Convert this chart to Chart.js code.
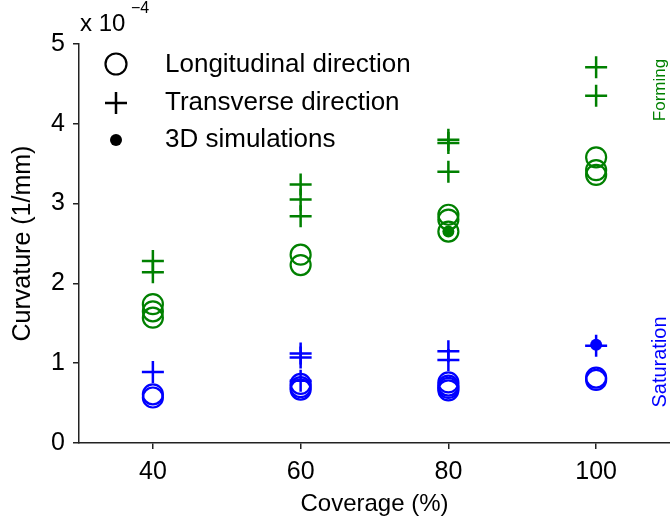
<!DOCTYPE html>
<html>
<head>
<meta charset="utf-8">
<script src="https://cdn.jsdelivr.net/npm/chart.js@4.4.1/dist/chart.umd.min.js"></script>
<style>
  html, body { margin: 0; padding: 0; background: #fff; }
  #box { width: 670px; height: 525px; }
</style>
</head>
<body>
<div id="box"><canvas id="curv_chart" width="670" height="525"></canvas></div>
<script>
// values in units of 1e-4 1/mm
const yTicks = [0, 1, 2, 3, 4, 5];
const xTicks = [40, 60, 80, 100];

const formingLongCov = [40, 40, 40, 60, 60, 80, 80, 80, 100, 100, 100];
const formingLongVal = [1.74, 1.65, 1.57, 2.36, 2.23, 2.86, 2.8, 2.65, 3.58, 3.42, 3.36];
const formingTransCov = [40, 40, 60, 60, 60, 80, 80, 80, 100, 100];
const formingTransVal = [2.28, 2.14, 3.24, 3.05, 2.84, 3.8, 3.76, 3.4, 4.71, 4.35];
const formingSimCov = [80];
const formingSimVal = [2.65];

const satLongCov = [40, 40, 60, 60, 60, 80, 80, 80, 80, 100, 100];
const satLongVal = [0.61, 0.57, 0.74, 0.7, 0.67, 0.76, 0.72, 0.69, 0.66, 0.82, 0.79];
const satTransCov = [40, 60, 60, 60, 80, 80, 100];
const satTransVal = [0.89, 1.12, 1.07, 0.78, 1.15, 1.04, 1.22];
const satSimCov = [100];
const satSimVal = [1.23];

const GREEN = "#008000",
  BLUE = "#0000ff",
  FONT = "'Liberation Sans', Arial, sans-serif";

const pts = (xs, ys) => xs.map((x, i) => ({ x: x, y: ys[i] }));

const circleSet = (xs, ys, color) => ({
  data: pts(xs, ys),
  pointStyle: "circle",
  radius: 10,
  borderWidth: 2.2,
  borderColor: color,
  backgroundColor: "rgba(0,0,0,0)",
});
const crossSet = (xs, ys, color) => ({
  data: pts(xs, ys),
  pointStyle: "cross",
  radius: 11,
  borderWidth: 2.5,
  borderColor: color,
  backgroundColor: color,
});
const dotSet = (xs, ys, color) => ({
  data: pts(xs, ys),
  pointStyle: "circle",
  radius: 6,
  borderWidth: 0,
  borderColor: color,
  backgroundColor: color,
});

const sideLabel = (ctx, text, x, y, size, color) => {
  ctx.save();
  ctx.textAlign = "center";
  ctx.textBaseline = "middle";
  ctx.font = `${size}px ${FONT}`;
  ctx.fillStyle = color;
  ctx.translate(x, y);
  ctx.rotate(-Math.PI / 2);
  ctx.fillText(text, 0, 0);
  ctx.restore();
};

// legend + side labels + exponent, drawn after everything
const extras = {
  id: "extras",
  afterDraw(chart) {
    const ctx = chart.ctx;
    ctx.save();
    ctx.fillStyle = "#000";
    ctx.strokeStyle = "#000";
    ctx.textBaseline = "middle";
    ctx.textAlign = "left";
    // exponent
    ctx.font = `24px ${FONT}`;
    ctx.fillText("x 10", 80, 24);
    ctx.font = `16px ${FONT}`;
    ctx.fillText("\u22124", 131, 9);

    // legend
    const lx = 116;
    ctx.lineWidth = 2.2;
    ctx.beginPath();
    ctx.arc(lx, 64, 10.5, 0, Math.PI * 2);
    ctx.stroke();
    ctx.lineWidth = 2.5;
    ctx.beginPath();
    ctx.moveTo(lx - 11, 103);
    ctx.lineTo(lx + 11, 103);
    ctx.moveTo(lx, 92);
    ctx.lineTo(lx, 114);
    ctx.stroke();
    ctx.beginPath();
    ctx.arc(lx, 140, 6, 0, Math.PI * 2);
    ctx.fill();
    ctx.font = `26px ${FONT}`;
    ctx.fillText("Longitudinal direction", 165, 65);
    ctx.fillText("Transverse direction", 165, 103);
    ctx.fillText("3D simulations", 165, 140);
    ctx.restore();

    sideLabel(ctx, "Forming", 660, 90, 17, GREEN);
    sideLabel(ctx, "Saturation", 660, 362, 20, BLUE);
  },
};

const canvas = document.querySelector("#curv_chart");
new Chart(canvas, {
  type: "scatter",
  data: {
    datasets: [
      dotSet(formingSimCov, formingSimVal, GREEN),
      dotSet(satSimCov, satSimVal, BLUE),
      crossSet(formingTransCov, formingTransVal, GREEN),
      crossSet(satTransCov, satTransVal, BLUE),
      circleSet(formingLongCov, formingLongVal, GREEN),
      circleSet(satLongCov, satLongVal, BLUE),
    ],
  },
  options: {
    responsive: false,
    animation: false,
    layout: { autoPadding: false, padding: { top: 44, right: 0, left: 0, bottom: 0 } },
    plugins: { legend: { display: false }, tooltip: { enabled: false } },
    scales: {
      x: {
        type: "linear",
        min: 30,
        max: 110,
        afterFit: (s) => (s.height = 82),
        afterBuildTicks: (s) => (s.ticks = xTicks.map((v) => ({ value: v }))),
        grid: { drawOnChartArea: false, tickLength: 6, color: "#222", lineWidth: 1.5 },
        border: { color: "#222", width: 1.5 },
        ticks: { color: "#000", padding: 8, font: { family: FONT, size: 25 } },
        title: {
          display: true,
          text: "Coverage (%)",
          color: "#000",
          padding: { top: 0, bottom: 6 },
          font: { family: FONT, size: 24 },
        },
      },
      y: {
        min: 0,
        max: 5,
        afterFit: (s) => (s.width = 79),
        afterBuildTicks: (s) => (s.ticks = yTicks.map((v) => ({ value: v }))),
        grid: { drawOnChartArea: false, tickLength: 6, color: "#222", lineWidth: 1.5 },
        border: { color: "#222", width: 1.5 },
        ticks: { color: "#000", padding: 8, font: { family: FONT, size: 25 } },
        title: {
          display: true,
          text: "Curvature (1/mm)",
          color: "#000",
          padding: { top: 8, bottom: 0 },
          font: { family: FONT, size: 25 },
        },
      },
    },
  },
  plugins: [extras],
});
</script>
</body>
</html>
